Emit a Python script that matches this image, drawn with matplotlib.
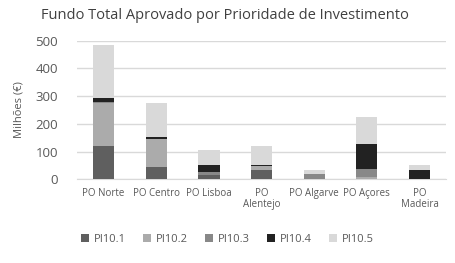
import matplotlib
matplotlib.use('Agg')
import matplotlib.pyplot as plt
import numpy as np

# dados (milhões de euros)
programas = ['PO Norte', 'PO Centro', 'PO Lisboa', 'PO\nAlentejo', 'PO Algarve', 'PO Açores', 'PO\nMadeira']
pi101 = [120, 46, 15, 32, 1, 2, 2]
pi102 = [155, 98, 0, 15, 0, 5, 0]
pi103 = [2, 0, 13, 0, 18, 31, 0]
pi104 = [16, 9, 22, 4, 0, 90, 32]
pi105 = [191, 122, 57, 68, 16, 95, 17]
series = ['PI10.1', 'PI10.2', 'PI10.3', 'PI10.4', 'PI10.5']
cores = ['#5f5f5f', '#ababab', '#888888', '#222222', '#d9d9d9']

plt.rcParams['font.family'] = ['Open Sans', 'DejaVu Sans']
txt = '#595959'

fig = plt.figure(figsize=(4.55, 2.63), dpi=100)
ax = fig.add_axes([0.17, 0.318, 0.81, 0.528])

x = np.arange(len(programas))
base = np.zeros(len(programas))
for nome, vals, cor in zip(series, [pi101, pi102, pi103, pi104, pi105], cores):
    ax.bar(x, vals, 0.4, bottom=base, color=cor, label=nome, zorder=3)
    base += np.array(vals)

ax.set_ylim(0, 500)
ax.set_xlim(-0.5, len(programas) - 0.5)
ax.set_yticks(range(0, 501, 100))
ax.yaxis.grid(True, color='#d9d9d9', linewidth=1, zorder=0)
for s in ['top', 'right', 'left']:
    ax.spines[s].set_visible(False)
ax.spines['bottom'].set_color('#d9d9d9')
ax.tick_params(axis='y', length=0, labelsize=9.5, labelcolor=txt, pad=14)
ax.tick_params(axis='x', length=0, labelsize=7, labelcolor=txt, pad=6)
ax.set_xticks(x)
ax.set_xticklabels(programas, linespacing=1.1)
ax.set_ylabel('Milhões (€)', fontsize=8, color=txt, labelpad=8)

fig.suptitle('Fundo Total Aprovado por Prioridade de Investimento',
             fontsize=10.5, color='#404040', x=0.495, y=0.97)

fig.legend(loc='lower center', bbox_to_anchor=(0.5, 0.03), ncol=5, frameon=False,
           fontsize=8, labelcolor=txt, handlelength=0.7, handleheight=0.7,
           columnspacing=1.6, handletextpad=0.4)

plt.savefig('out.png', dpi=100)
